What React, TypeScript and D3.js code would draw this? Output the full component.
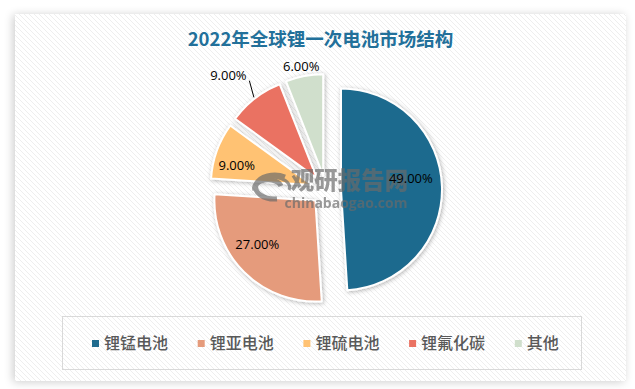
import React from 'react';
import * as d3 from 'd3';

const title = '2022年全球锂一次电池市场结构';
const categories = ['锂锰电池', '锂亚电池', '锂硫电池', '锂氟化碳', '其他'];
const values = [49, 27, 9, 9, 6];
const colors = ['#1F6B8E', '#E59B7B', '#FFC273', '#EA7262', '#D0DFCC'];
// label placement (radius factor, angle offset in degrees) — Excel "best fit"
const labelRadius = [0.7, 0.72, 0.77, 1.34, 1.1];
const labelAngleOffset = [-7, 8, -5, -3, -0.6];
const outsideLabel = [false, false, false, true, false];

const W = 635;
const H = 389;
const cx = 326;
const cy = 190;
const R = 101;
const explode = 15;

export default function App() {
  const pie = d3.pie<number>().sort(null).value((d) => d)(values);
  const arc = d3.arc<d3.PieArcDatum<number>>().innerRadius(0).outerRadius(R);
  const fmt = d3.format('.2f');

  const legendX0 = 92;
  const legendStep = 105.7;

  return (
    <svg
      width={W}
      height={H}
      style={{ position: 'absolute', left: 0, top: 0, display: 'block' }}
    >
      <defs>
        <pattern id="hatch" patternUnits="userSpaceOnUse" width={5} height={5}>
          <rect width={5} height={5} fill="#ffffff" />
          <path d="M0,0 L5,5 M-1,4 L1,6 M4,-1 L6,1" stroke="#eeeeee" strokeWidth={1} />
        </pattern>
        <filter id="cardShadow" x="-10%" y="-10%" width="120%" height="120%">
          <feGaussianBlur in="SourceAlpha" stdDeviation={5} />
          <feOffset dx={-2} dy={1} result="b" />
          <feComponentTransfer>
            <feFuncA type="linear" slope={0.2} />
          </feComponentTransfer>
          <feMerge>
            <feMergeNode />
            <feMergeNode in="SourceGraphic" />
          </feMerge>
        </filter>
        <filter id="sliceShadow" x="-30%" y="-30%" width="160%" height="160%">
          <feDropShadow dx={1} dy={1} stdDeviation={2} floodColor="#000" floodOpacity={0.3} />
        </filter>
      </defs>
      <rect x={0} y={0} width={W} height={H} fill="#ffffff" />
      <rect x={15} y={14} width={611} height={367} fill="url(#hatch)" filter="url(#cardShadow)" />

      <text
        x={320.5}
        y={46}
        textAnchor="middle"
        fontFamily="'Noto Sans CJK SC', sans-serif"
        fontWeight={700}
        fontSize={18.5}
        fill="#22709A"
      >
        {title}
      </text>

      <g>
        {pie.map((p, i) => {
          const mid = (p.startAngle + p.endAngle) / 2;
          const dx = Math.sin(mid) * explode;
          const dy = -Math.cos(mid) * explode;
          return (
            <path
              key={i}
              d={arc(p) || ''}
              transform={`translate(${cx + dx},${cy + dy})`}
              fill={colors[i]}
              stroke="#ffffff"
              strokeWidth={2}
              strokeLinejoin="round"
              filter="url(#sliceShadow)"
            />
          );
        })}
      </g>

      {/* watermark */}
      <g opacity={0.68} fill="#6a6a6a">
        <g fill="none" stroke="#6a6a6a" strokeWidth={5}>
          <path d="M285,177 A19,12 0 1 0 277,199" />
          <path d="M255,190 A13,8 0 0 1 281,186" />
          <path d="M261,180 A17,10 0 0 1 289,190" strokeWidth={3} />
        </g>
        <text
          x={349.5}
          y={189}
          textAnchor="middle"
          fontFamily="'Noto Sans CJK SC', sans-serif"
          fontWeight={900}
          fontSize={23.5}
        >
          观研报告网
        </text>
        <text
          x={346}
          y={208}
          textAnchor="middle"
          fontFamily="'Open Sans', sans-serif"
          fontWeight={700}
          fontSize={14}
        >
          chinabaogao.com
        </text>
      </g>

      <g>
        {pie.map((p, i) => {
          const mid = (p.startAngle + p.endAngle) / 2;
          const ax = cx + Math.sin(mid) * explode;
          const ay = cy - Math.cos(mid) * explode;
          const la = mid + (labelAngleOffset[i] * Math.PI) / 180;
          const lr = R * labelRadius[i];
          const lx = ax + Math.sin(la) * lr;
          const ly = ay - Math.cos(la) * lr;
          const sx = ax + Math.sin(mid) * R;
          const sy = ay - Math.cos(mid) * R;
          return (
            <g key={i}>
              {outsideLabel[i] && (
                <line x1={sx - 1} y1={sy - 1} x2={lx + 21} y2={ly + 5} stroke="#000" strokeWidth={1} />
              )}
              <text
                x={lx}
                y={ly}
                dy="0.35em"
                textAnchor="middle"
                fontFamily="'Open Sans', sans-serif"
                fontSize={13}
                fill="#000"
              >
                {fmt(values[i])}%
              </text>
            </g>
          );
        })}
      </g>

      <rect x={62.5} y={316.5} width={519} height={53} fill="none" stroke="#d9d9d9" strokeWidth={1} />
      {categories.map((c, i) => {
        const x = legendX0 + i * legendStep;
        return (
          <g key={c}>
            <rect x={x} y={340} width={7} height={7} fill={colors[i]} />
            <text
              x={x + 12}
              y={343.5}
              dy="0.35em"
              fontFamily="'Noto Sans CJK SC', sans-serif"
              fontWeight={500}
              fontSize={16}
              fill="#595959"
            >
              {c}
            </text>
          </g>
        );
      })}
    </svg>
  );
}
